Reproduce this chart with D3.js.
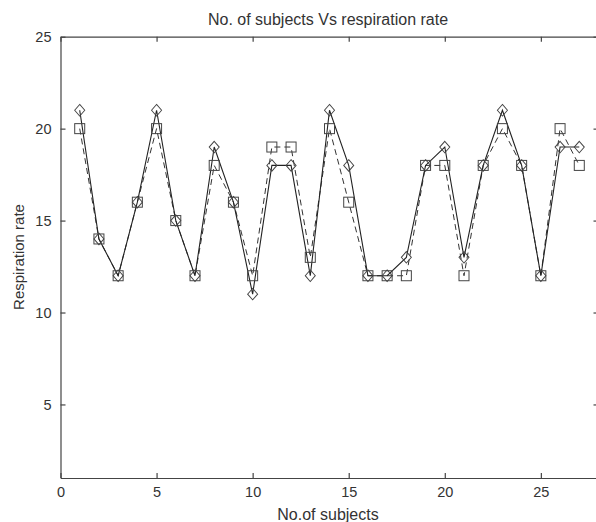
<!DOCTYPE html>
<html>
<head>
<meta charset="utf-8">
<script src="https://cdn.jsdelivr.net/npm/d3@7"></script>
<style>
  html, body { margin: 0; padding: 0; background: #fff; overflow: hidden; }
  text { font-family: "Liberation Sans", Arial, sans-serif; fill: #333; }
</style>
</head>
<body>
<svg id="main" width="596" height="522"></svg>
<script>
// subject numbers 1..27
var subjects = [1, 2, 3, 4, 5, 6, 7, 8, 9, 10, 11, 12, 13, 14, 15, 16, 17, 18, 19, 20, 21, 22, 23, 24, 25, 26, 27]
// diamond series (solid line)
var rateA = [21, 14, 12, 16, 21, 15, 12, 19, 16, 11, 18, 18, 12, 21, 18, 12, 12, 13, 18, 19, 13, 18, 21, 18, 12, 19, 19]
// square series (dashed line)
var rateB = [20, 14, 12, 16, 20, 15, 12, 18, 16, 12, 19, 19, 13, 20, 16, 12, 12, 12, 18, 18, 12, 18, 20, 18, 12, 20, 18]
var xTicks = [0, 5, 10, 15, 20, 25]
var yTicks = [5, 10, 15, 20, 25]

var svg = d3.select('#main')
var x = d3.scaleLinear().domain([0, 28]).range([60.5, 598.5])
var y = d3.scaleLinear().domain([1, 25]).range([478, 36.7])
var axisColor = '#444'

// bottom and left axes with ticks pointing inward
var gx = svg.append('g').attr('transform', 'translate(0,' + y(1) + ')')
    .call(d3.axisBottom(x).tickValues(xTicks).tickSizeInner(-5).tickSizeOuter(0).tickPadding(9))
var gy = svg.append('g').attr('transform', 'translate(' + x(0) + ',0)')
    .call(d3.axisLeft(y).tickValues(yTicks).tickSizeInner(-5).tickSizeOuter(0).tickPadding(9))
// top and right: lines + inward ticks, no labels
var gt = svg.append('g').attr('transform', 'translate(0,' + y(25) + ')')
    .call(d3.axisTop(x).tickValues(xTicks).tickSizeInner(-5).tickSizeOuter(0).tickFormat(''))
var gr = svg.append('g').attr('transform', 'translate(' + x(28) + ',0)')
    .call(d3.axisRight(y).tickValues(yTicks).tickSizeInner(-5).tickSizeOuter(0).tickFormat(''))

svg.selectAll('.domain, .tick line').attr('stroke', axisColor).attr('stroke-width', 1.2)
gx.selectAll('text').style('font-size', '14.5px').attr('fill', '#3a3a3a')
gy.selectAll('text').style('font-size', '14.5px').attr('fill', '#3a3a3a')

var pts = function(vals) {
    return subjects.map(function(s, i) { return { x: s, y: vals[i] } })
}
var line = d3.line().x(function(d) { return x(d.x) }).y(function(d) { return y(d.y) })

// square series, dashed
svg.append('path').datum(pts(rateB))
    .attr('d', line).attr('fill', 'none')
    .attr('stroke', '#333').attr('stroke-width', 1).attr('stroke-dasharray', '6,4')
// diamond series, solid
svg.append('path').datum(pts(rateA))
    .attr('d', line).attr('fill', 'none')
    .attr('stroke', '#222').attr('stroke-width', 1.1)

svg.append('g').selectAll('rect').data(pts(rateB)).enter().append('rect')
    .attr('x', function(d) { return x(d.x) - 5 })
    .attr('y', function(d) { return y(d.y) - 5 })
    .attr('width', 10).attr('height', 10)
    .attr('fill', 'none').attr('stroke', '#444').attr('stroke-width', 1)

var diamond = d3.symbol().type(d3.symbolDiamond2).size(64)
svg.append('g').selectAll('path').data(pts(rateA)).enter().append('path')
    .attr('d', diamond)
    .attr('transform', function(d) { return 'translate(' + x(d.x) + ',' + y(d.y) + ') scale(1,1.15)' })
    .attr('fill', 'none').attr('stroke', '#444').attr('stroke-width', 0.9)

// title and axis labels
svg.append('text').attr('x', 328).attr('y', 24.5).attr('text-anchor', 'middle')
    .style('font-size', '16px').attr('fill', '#3a3a3a').text('No. of subjects Vs respiration rate')
svg.append('text').attr('x', 328).attr('y', 520).attr('text-anchor', 'middle')
    .style('font-size', '16px').attr('fill', '#3a3a3a').text('No.of subjects')
svg.append('text').attr('transform', 'translate(24,257) rotate(-90)').attr('text-anchor', 'middle')
    .style('font-size', '15px').attr('fill', '#3a3a3a').text('Respiration rate')
</script>
</body>
</html>
